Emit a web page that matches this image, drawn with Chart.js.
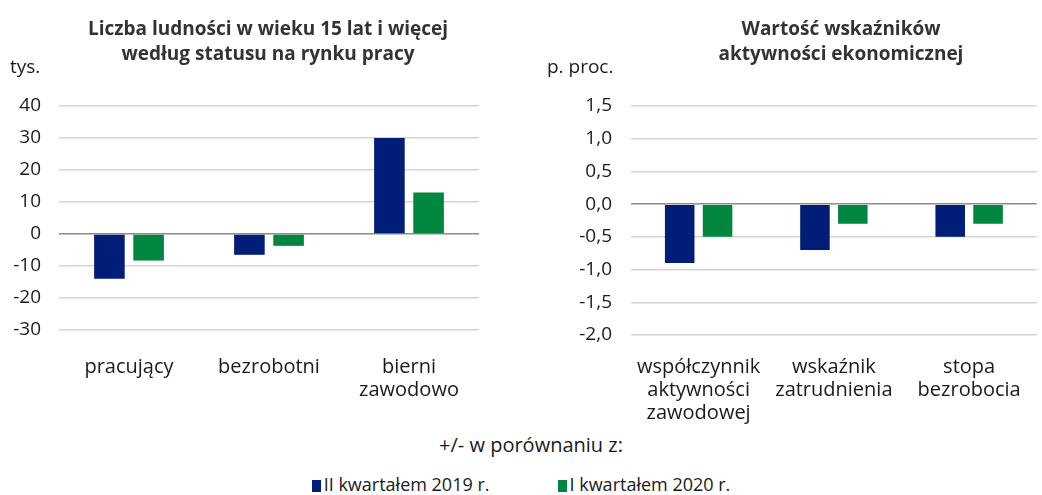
<!DOCTYPE html>
<html>
<head>
<meta charset="utf-8">
<script src="https://cdn.jsdelivr.net/npm/chart.js@4.4.1/dist/chart.umd.min.js"></script>
<style>
  html, body { margin: 0; padding: 0; background: #fff; }
  body { width: 1042px; height: 495px; position: relative; overflow: hidden; font-family: "Open Sans", "Noto Sans", sans-serif; }
  #c1 { position: absolute; left: 0; top: 0; }
  #c2 { position: absolute; left: 520px; top: 0; }
  #legendTitle { position: absolute; left: 0; width: 1062px; top: 432px; text-align: center; font-size: 20px; line-height: 26px; color: #1a1a1a; }
  #legend { position: absolute; left: 0; width: 1042px; top: 472px; text-align: center; font-size: 18px; line-height: 24px; color: #1a1a1a; white-space: nowrap; }
  .item { display: inline-block; margin: 0 34px; }
  .sw { display: inline-block; width: 9px; height: 12px; margin-right: 3px; vertical-align: -1px; }
</style>
</head>
<body>
<canvas id="c1" width="520" height="430"></canvas>
<canvas id="c2" width="522" height="430"></canvas>
<div id="legendTitle">+/- w porównaniu z:</div>
<div id="legend"></div>
<script>
// ---- data ----
const seriesNames = ["II kwartałem 2019 r.", "I kwartałem 2020 r."];
const seriesColors = ["#001D77", "#00873F"];

const leftTitle = ["Liczba ludności w wieku 15 lat i więcej", "według statusu na rynku pracy"];
const leftUnit = "tys.";
const leftCategories = [["pracujący"], ["bezrobotni"], ["bierni", "zawodowo"]];
const leftQ2019 = [-14, -6.5, 30];
const leftQ2020 = [-8.3, -3.7, 13];
const leftTicks = [40, 30, 20, 10, 0, -10, -20, -30];

const rightTitle = ["Wartość wskaźników", "aktywności ekonomicznej"];
const rightUnit = "p. proc.";
const rightCategories = [["współczynnik", "aktywności", "zawodowej"], ["wskaźnik", "zatrudnienia"], ["stopa", "bezrobocia"]];
const rightQ2019 = [-0.9, -0.7, -0.5];
const rightQ2020 = [-0.5, -0.3, -0.3];
const rightTicks = [1.5, 1.0, 0.5, 0.0, -0.5, -1.0, -1.5, -2.0];

const FONT = '"Open Sans", "Noto Sans", sans-serif';
const TXT = '#1a1a1a';

function headerPlugin(title, unit, titleCx, unitX) {
  return {
    id: 'header',
    afterDraw(chart) {
      const ctx = chart.ctx;
      ctx.save();
      ctx.fillStyle = '#333333';
      ctx.font = 'bold 19px ' + FONT;
      ctx.textAlign = 'center';
      ctx.textBaseline = 'middle';
      title.forEach((t, i) => ctx.fillText(t, titleCx, 30 + i * 25));
      ctx.fillStyle = TXT;
      ctx.font = '19px ' + FONT;
      ctx.textAlign = 'left';
      ctx.fillText(unit, unitX, 68);
      ctx.restore();
    }
  };
}

function makeChart(id, cats, a, b, ticks, fmt, opts) {
  const min = Math.min(...ticks), max = Math.max(...ticks);
  const step = ticks[0] - ticks[1];
  return new Chart(document.getElementById(id), {
    type: 'bar',
    data: {
      labels: cats,
      datasets: [
        { label: seriesNames[0], data: a, backgroundColor: seriesColors[0], categoryPercentage: 0.56, barPercentage: 0.78 },
        { label: seriesNames[1], data: b, backgroundColor: seriesColors[1], categoryPercentage: 0.56, barPercentage: 0.78 }
      ]
    },
    options: {
      responsive: false,
      animation: false,
      devicePixelRatio: 1,
      layout: { padding: { top: opts.top, right: opts.right, left: 0, bottom: 0 } },
      plugins: { legend: { display: false }, tooltip: { enabled: false }, title: { display: false } },
      scales: {
        x: {
          grid: { display: false, drawTicks: false },
          border: { display: false },
          ticks: { color: TXT, font: { family: FONT, size: 20, lineHeight: 1.15 }, padding: opts.xpad, maxRotation: 0, autoSkip: false },
          afterFit(s) { s.height = opts.xh; }
        },
        y: {
          min, max,
          grid: { color: (c) => c.tick && c.tick.value === 0 ? '#8c8c8c' : '#d4d4d4', lineWidth: 1.5, drawTicks: false },
          border: { display: false },
          ticks: {
            stepSize: step, color: TXT, font: { family: FONT, size: 19 }, padding: opts.ypad,
            callback: fmt
          },
          afterFit(s) { s.width = opts.yw; }
        }
      }
    },
    plugins: [headerPlugin(opts.title, opts.unit, opts.titleCx, opts.unitX)]
  });
}

makeChart('c1', leftCategories, leftQ2019, leftQ2020, leftTicks,
  (v) => String(Math.round(v)),
  { top: 106, right: 41, xh: 100, xpad: 26, yw: 59, ypad: 18, title: leftTitle, unit: leftUnit, titleCx: 268, unitX: 10 });

makeChart('c2', rightCategories, rightQ2019, rightQ2020, rightTicks,
  (v) => (Math.round(v * 10) / 10).toFixed(1).replace('.', ','),
  { top: 106, right: 2, xh: 95, xpad: 21, yw: 111, ypad: 19, title: rightTitle, unit: rightUnit, titleCx: 321, unitX: 27 });

// legend
const lg = document.getElementById('legend');
seriesNames.forEach((n, i) => {
  const it = document.createElement('span');
  it.className = 'item';
  const sw = document.createElement('span');
  sw.className = 'sw';
  sw.style.background = seriesColors[i];
  it.appendChild(sw);
  it.appendChild(document.createTextNode(n));
  lg.appendChild(it);
});
</script>
</body>
</html>
